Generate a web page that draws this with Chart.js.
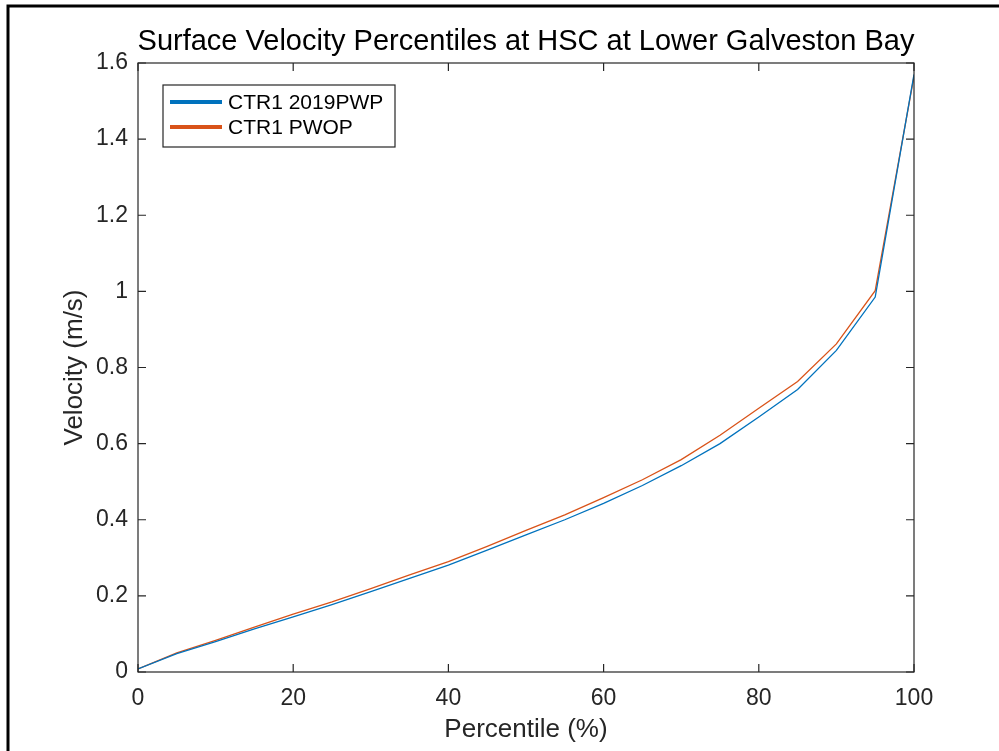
<!DOCTYPE html>
<html>
<head>
<meta charset="utf-8">
<script src="https://cdn.jsdelivr.net/npm/chart.js@4.4.1/dist/chart.umd.min.js"></script>
<style>
  html, body { margin: 0; padding: 0; background: #fff; }
  #wrap { width: 999px; height: 751px; position: relative; }
</style>
</head>
<body>
<div id="wrap"><canvas id="myChart" width="999" height="751"></canvas></div>
<script>
// percentiles (x) and velocities
const percentiles = [0, 5, 10, 15, 20, 25, 30, 35, 40, 45, 50, 55, 60, 65, 70, 75, 80, 85, 90, 95, 100];
const velPWP = [0.008, 0.048, 0.080, 0.113, 0.145, 0.177, 0.211, 0.246, 0.281, 0.320, 0.360, 0.400, 0.443, 0.490, 0.542, 0.600, 0.670, 0.742, 0.845, 0.985, 1.570];
const velPWOP = [0.008, 0.050, 0.083, 0.118, 0.152, 0.184, 0.219, 0.255, 0.290, 0.330, 0.372, 0.413, 0.458, 0.505, 0.558, 0.622, 0.693, 0.763, 0.862, 1.002, 1.565];

const seriesNames = ['CTR1 2019PWP', 'CTR1 PWOP'];
const chartTitle = 'Surface Velocity Percentiles at HSC at Lower Galveston Bay';
const xTicks = [0, 20, 40, 60, 80, 100];
const yTicks = [0, 0.2, 0.4, 0.6, 0.8, 1, 1.2, 1.4, 1.6];
const yTickLabels = ['0', '0.2', '0.4', '0.6', '0.8', '1', '1.2', '1.4', '1.6'];

const axisColor = '#262626';
const fontFam = '"Liberation Sans", Arial, Helvetica, sans-serif';

// рамка, засечки внутрь, заголовок и легенда как в MATLAB
const matlabBox = {
  id: 'matlabBox',
  beforeDraw(chart) {
    const c = chart.ctx;
    c.save();
    c.fillStyle = '#fff';
    c.fillRect(0, 0, chart.width, chart.height);
    c.restore();
  },
  afterDraw(chart) {
    const c = chart.ctx;
    const a = chart.chartArea;
    const xs = chart.scales.x, ys = chart.scales.y;
    c.save();
    // outer frame of the picture
    c.strokeStyle = '#000';
    c.lineWidth = 3;
    c.beginPath();
    c.moveTo(8, chart.height);
    c.lineTo(8, 6);
    c.lineTo(chart.width, 6);
    c.stroke();

    // title over the axes
    c.fillStyle = '#000';
    c.font = '29px ' + fontFam;
    c.textAlign = 'center';
    c.textBaseline = 'middle';
    c.fillText(chartTitle, (a.left + a.right) / 2, 42);

    // axes box
    c.strokeStyle = axisColor;
    c.lineWidth = 1.2;
    c.strokeRect(a.left, a.top, a.right - a.left, a.bottom - a.top);
    const tl = 8;
    c.beginPath();
    xTicks.forEach(v => {
      const px = xs.getPixelForValue(v);
      c.moveTo(px, a.bottom); c.lineTo(px, a.bottom - tl);
      c.moveTo(px, a.top); c.lineTo(px, a.top + tl);
    });
    yTicks.forEach(v => {
      const py = ys.getPixelForValue(v);
      c.moveTo(a.left, py); c.lineTo(a.left + tl, py);
      c.moveTo(a.right, py); c.lineTo(a.right - tl, py);
    });
    c.stroke();

    // legend
    const lx = 163, ly = 85, lw = 232, lh = 62;
    c.fillStyle = '#fff';
    c.fillRect(lx, ly, lw, lh);
    c.strokeStyle = axisColor;
    c.lineWidth = 1.2;
    c.strokeRect(lx, ly, lw, lh);
    c.font = '21px ' + fontFam;
    c.textAlign = 'left';
    c.textBaseline = 'middle';
    chart.data.datasets.forEach((ds, i) => {
      const yy = ly + 17 + i * 25;
      c.strokeStyle = ds.borderColor;
      c.lineWidth = 4;
      c.beginPath();
      c.moveTo(170, yy); c.lineTo(222, yy);
      c.stroke();
      c.fillStyle = '#000';
      c.fillText(ds.label, 228, yy + 1);
    });
    c.restore();
  }
};

const ctx = document.getElementById('myChart').getContext('2d');
new Chart(ctx, {
  type: 'line',
  data: {
    datasets: [{
      label: seriesNames[0],
      data: percentiles.map((p, i) => ({ x: p, y: velPWP[i] })),
      borderColor: '#0072BD',
      borderWidth: 1.3,
      pointRadius: 0,
      fill: false,
      tension: 0
    }, {
      label: seriesNames[1],
      data: percentiles.map((p, i) => ({ x: p, y: velPWOP[i] })),
      borderColor: '#D95319',
      borderWidth: 1.3,
      pointRadius: 0,
      fill: false,
      tension: 0
    }]
  },
  options: {
    responsive: false,
    animation: false,
    events: [],
    layout: { padding: { left: 0, right: 85, top: 63, bottom: 0 } },
    plugins: {
      legend: { display: false },
      tooltip: { enabled: false },
      title: { display: false }
    },
    scales: {
      x: {
        type: 'linear',
        min: 0,
        max: 100,
        afterFit: s => { s.height = 79; },
        afterBuildTicks: s => { s.ticks = xTicks.map(v => ({ value: v })); },
        grid: { display: false },
        border: { display: false },
        ticks: {
          color: axisColor,
          padding: 5,
          font: { family: fontFam, size: 23 },
          maxRotation: 0
        },
        title: {
          display: true,
          text: 'Percentile (%)',
          color: axisColor,
          font: { family: fontFam, size: 26 },
          padding: { top: 0, bottom: 6 }
        }
      },
      y: {
        type: 'linear',
        min: 0,
        max: 1.6,
        afterFit: s => { s.width = 138; },
        afterBuildTicks: s => { s.ticks = yTicks.map(v => ({ value: v })); },
        grid: { display: false },
        border: { display: false },
        ticks: {
          color: axisColor,
          padding: 2,
          font: { family: fontFam, size: 23 },
          callback: (v) => yTickLabels[yTicks.indexOf(Math.round(v * 10) / 10)]
        },
        title: {
          display: true,
          text: 'Velocity (m/s)',
          color: axisColor,
          font: { family: fontFam, size: 26 },
          padding: { top: 59, bottom: 0 }
        }
      }
    }
  },
  plugins: [matlabBox]
});
</script>
</body>
</html>
